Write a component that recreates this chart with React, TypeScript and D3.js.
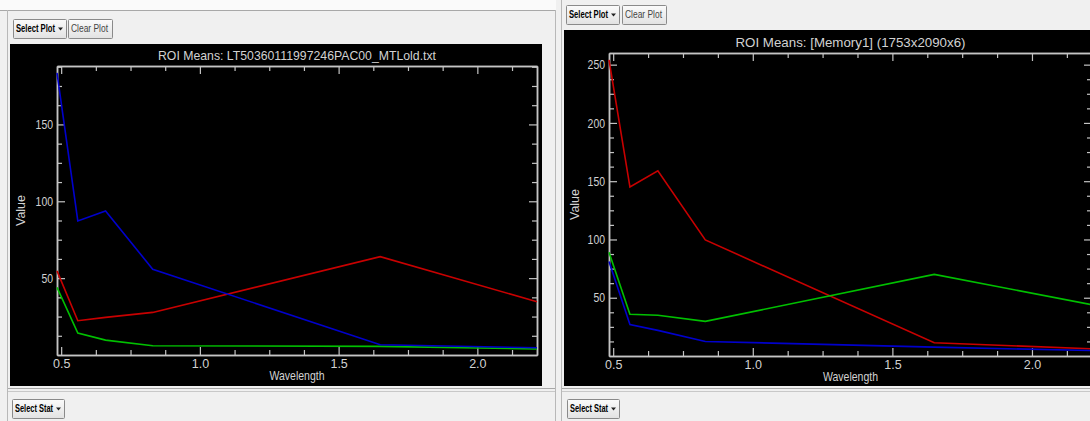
import React, { useEffect, useRef } from "react";
import * as d3 from "d3";

// Landsat TM band centres (micrometres)
const wavelengths = [0.485, 0.56, 0.66, 0.83, 1.65, 2.215];

// left plot: LT50360111997246PAC00_MTLold.txt
const tmRed = [54.7, 22.3, 24.5, 27.7, 64.0, 34.6];
const tmGreen = [44.0, 14.3, 9.7, 6.0, 5.6, 3.9];
const tmBlue = [183.5, 87.2, 93.7, 55.8, 6.7, 4.7];

// right plot: [Memory1]
const memRed = [254, 145, 159, 99.6, 11.4, 6.2];
const memGreen = [89, 35.8, 35, 29.7, 70, 44];
const memBlue = [81, 27, 22, 12.5, 7.6, 4.7];

const xMajorTicks = [0.5, 1.0, 1.5, 2.0];
const xMinorTicks = [0.625, 0.75, 0.875, 1.125, 1.25, 1.375, 1.625, 1.75, 1.875, 2.125];
const tmYTicks = [50, 100, 150];
const memYTicks = [50, 100, 150, 200, 250];

const FONT = "'Liberation Sans', Arial, sans-serif";
const TXT = "#d2d2d2";

type PanelProps = {
  title: string;
  titleWidth: number;
  red: number[];
  green: number[];
  blue: number[];
  yMax: number;
  yTicks: number[];
  box: { x: number; y: number; w: number; h: number };
  plot: { x0: number; x1: number; y0: number; y1: number };
};

function Panel(props: PanelProps) {
  const ref = useRef<SVGGElement>(null);

  useEffect(() => {
    const { title, titleWidth, red, green, blue, yMax, yTicks, box, plot } = props;
    const g = d3.select(ref.current);
    g.selectAll("*").remove();

    g.append("rect")
      .attr("x", box.x)
      .attr("y", box.y)
      .attr("width", box.w)
      .attr("height", box.h)
      .attr("fill", "#000");

    const x = d3.scaleLinear().domain([0.485, 2.215]).range([plot.x0, plot.x1]);
    const y = d3.scaleLinear().domain([0, yMax]).range([plot.y1, plot.y0]);

    const yMinor = d3.range(12.5, yMax, 12.5).filter((v) => v % 50 !== 0);

    // narrow-looking labels: squeeze the glyphs to the width seen in ENVI
    const styleAxis = (sel: any, labels: boolean) => {
      sel.select(".domain").attr("stroke", "#c4c4c4").attr("stroke-width", 1.5);
      sel.selectAll(".tick line").attr("stroke", "#c4c4c4").attr("stroke-width", 1.2);
      sel.selectAll(".tick text")
        .attr("fill", labels ? TXT : "none")
        .attr("textLength", function (this: SVGTextElement) {
          return (this.textContent || "").length * 5.8;
        })
        .attr("lengthAdjust", "spacingAndGlyphs")
        .style("font-family", FONT)
        .style("font-size", "13px");
    };

    // bottom
    g.append("g")
      .attr("transform", `translate(0,${plot.y1})`)
      .call(d3.axisBottom(x).tickValues(xMinorTicks).tickSize(-5).tickSizeOuter(0).tickFormat(() => ""))
      .call((s: any) => styleAxis(s, false));
    g.append("g")
      .attr("transform", `translate(0,${plot.y1})`)
      .call(d3.axisBottom(x).tickValues(xMajorTicks).tickSize(-8).tickSizeOuter(0).tickPadding(4).tickFormat(d3.format(".1f")))
      .call((s: any) => styleAxis(s, true));
    // top
    g.append("g")
      .attr("transform", `translate(0,${plot.y0})`)
      .call(d3.axisTop(x).tickValues(xMinorTicks).tickSize(-5).tickSizeOuter(0).tickFormat(() => ""))
      .call((s: any) => styleAxis(s, false));
    g.append("g")
      .attr("transform", `translate(0,${plot.y0})`)
      .call(d3.axisTop(x).tickValues(xMajorTicks).tickSize(-8).tickSizeOuter(0).tickFormat(() => ""))
      .call((s: any) => styleAxis(s, false));
    // left
    g.append("g")
      .attr("transform", `translate(${plot.x0},0)`)
      .call(d3.axisLeft(y).tickValues(yMinor).tickSize(-5).tickSizeOuter(0).tickFormat(() => ""))
      .call((s: any) => styleAxis(s, false));
    g.append("g")
      .attr("transform", `translate(${plot.x0},0)`)
      .call(d3.axisLeft(y).tickValues(yTicks).tickSize(-8).tickSizeOuter(0).tickPadding(4).tickFormat(d3.format("d")))
      .call((s: any) => styleAxis(s, true));
    // right
    g.append("g")
      .attr("transform", `translate(${plot.x1},0)`)
      .call(d3.axisRight(y).tickValues(yMinor).tickSize(-5).tickSizeOuter(0).tickFormat(() => ""))
      .call((s: any) => styleAxis(s, false));
    g.append("g")
      .attr("transform", `translate(${plot.x1},0)`)
      .call(d3.axisRight(y).tickValues(yTicks).tickSize(-8).tickSizeOuter(0).tickFormat(() => ""))
      .call((s: any) => styleAxis(s, false));

    const line = d3
      .line<number>()
      .x((d, i) => x(wavelengths[i]))
      .y((d) => y(d));

    [
      { values: red, color: "#c80000" },
      { values: green, color: "#00c000" },
      { values: blue, color: "#0000cc" },
    ].forEach((s) => {
      g.append("path")
        .attr("d", line(s.values))
        .attr("fill", "none")
        .attr("stroke", s.color)
        .attr("stroke-width", 1.6);
    });

    const cx = (plot.x0 + plot.x1) / 2;
    const cy = (plot.y0 + plot.y1) / 2;

    g.append("text")
      .attr("x", cx)
      .attr("y", plot.y0 - 6)
      .attr("text-anchor", "middle")
      .attr("textLength", titleWidth)
      .attr("lengthAdjust", "spacingAndGlyphs")
      .attr("fill", TXT)
      .style("font-family", FONT)
      .style("font-size", "13px")
      .text(title);

    g.append("text")
      .attr("x", cx)
      .attr("y", plot.y1 + 25)
      .attr("text-anchor", "middle")
      .attr("textLength", 55)
      .attr("lengthAdjust", "spacingAndGlyphs")
      .attr("fill", TXT)
      .style("font-family", FONT)
      .style("font-size", "13px")
      .text("Wavelength");

    g.append("text")
      .attr("transform", `translate(${box.x + 15},${cy}) rotate(-90)`)
      .attr("text-anchor", "middle")
      .attr("textLength", 31)
      .attr("lengthAdjust", "spacingAndGlyphs")
      .attr("fill", TXT)
      .style("font-family", FONT)
      .style("font-size", "13px")
      .text("Value");
  }, [props]);

  return <g ref={ref} />;
}

function Button({ x, y, w, h, label, bold, arrow }: { x: number; y: number; w: number; h: number; label: string; bold?: boolean; arrow?: boolean }) {
  const textW = w - (arrow ? 14 : 7);
  return (
    <g>
      <rect x={x + 0.5} y={y + 0.5} width={w} height={h} fill="url(#btn)" stroke="#8a8a8a" strokeWidth={1} rx={1} />
      <text
        x={x + 3}
        y={y + h / 2 + 3.5}
        textLength={textW}
        lengthAdjust="spacingAndGlyphs"
        fill={bold ? "#000" : "#444"}
        style={{ fontFamily: FONT, fontSize: "10px", fontWeight: bold ? 700 : 400 }}
      >
        {label}
      </text>
      {arrow && (
        <path
          d={`M${x + w - 8},${y + h / 2 - 1} h5 l-2.5,3 z`}
          fill="#222"
        />
      )}
    </g>
  );
}

export default function App() {
  return (
    <svg width={1090} height={421} style={{ position: "absolute", left: 0, top: 0 }}>
      <defs>
        <linearGradient id="btn" x1="0" y1="0" x2="0" y2="1">
          <stop offset="0" stopColor="#fbfbfb" />
          <stop offset="1" stopColor="#e2e2e2" />
        </linearGradient>
      </defs>
      <rect width={1090} height={421} fill="#f0f0f0" />
      <rect width={556} height={10} fill="#fafafa" />
      {/* window frames */}
      <line x1={0} x2={556} y1={10.5} y2={10.5} stroke="#a8a8a8" />
      <line x1={7.5} x2={7.5} y1={10} y2={421} stroke="#b8b8b8" />
      <line x1={555.5} x2={555.5} y1={10} y2={421} stroke="#b8b8b8" />
      <line x1={561.5} x2={561.5} y1={0} y2={421} stroke="#b8b8b8" />
      <line x1={8} x2={555} y1={388.5} y2={388.5} stroke="#a8a8a8" />
      <line x1={8} x2={555} y1={391.5} y2={391.5} stroke="#c8c8c8" />
      <line x1={562} x2={1090} y1={388.5} y2={388.5} stroke="#a8a8a8" />
      <line x1={562} x2={1090} y1={391.5} y2={391.5} stroke="#c8c8c8" />

      <Button x={13} y={19} w={53} h={19} label="Select Plot" bold arrow />
      <Button x={68} y={19} w={44} h={19} label="Clear Plot" />
      <Button x={566} y={5} w={53} h={19} label="Select Plot" bold arrow />
      <Button x={622} y={5} w={44} h={19} label="Clear Plot" />
      <Button x={12} y={399} w={52} h={19} label="Select Stat" bold arrow />
      <Button x={567} y={399} w={52} h={19} label="Select Stat" bold arrow />

      <Panel
        title="ROI Means: LT50360111997246PAC00_MTLold.txt"
        titleWidth={278}
        red={tmRed}
        green={tmGreen}
        blue={tmBlue}
        yMax={188}
        yTicks={tmYTicks}
        box={{ x: 10, y: 44, w: 532, h: 342 }}
        plot={{ x0: 57, x1: 537, y0: 66, y1: 355 }}
      />
      <Panel
        title="ROI Means: [Memory1] (1753x2090x6)"
        titleWidth={230}
        red={memRed}
        green={memGreen}
        blue={memBlue}
        yMax={260}
        yTicks={memYTicks}
        box={{ x: 564, y: 30, w: 530, h: 356 }}
        plot={{ x0: 609, x1: 1092, y0: 53, y1: 356 }}
      />
    </svg>
  );
}
